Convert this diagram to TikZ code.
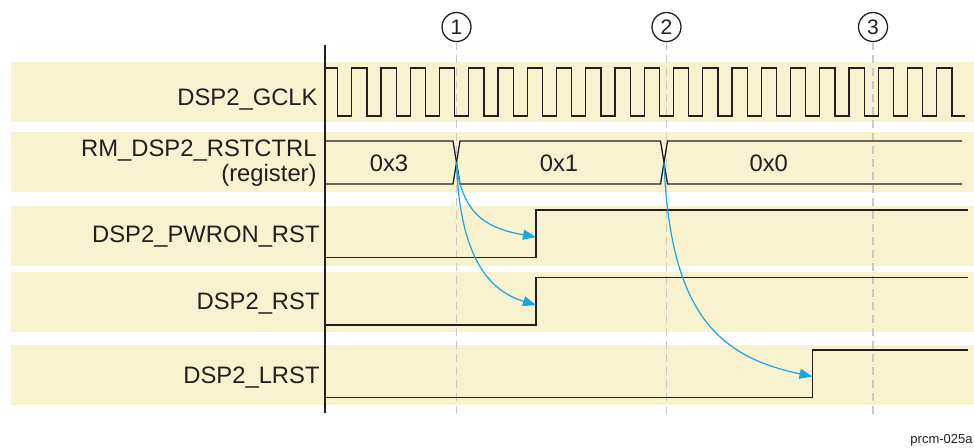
\documentclass[tikz,border=0pt]{standalone}
\usepackage{fontspec}
\setmainfont{Liberation Sans}
\usepackage{tikz}
\usetikzlibrary{arrows.meta,positioning}
\definecolor{tband}{HTML}{F8F2CF}
\definecolor{tink}{HTML}{231F20}
\definecolor{tcyan}{HTML}{1CA6E0}
\definecolor{tgrid}{HTML}{C9C9C9}

\begin{document}
\begin{tikzpicture}[x=0.5pt,y=-0.5pt,
  sig/.style={draw=tink,line width=0.65pt},
  lbl/.style={anchor=base east,inner sep=0pt,align=right,
              font=\fontsize{11.9}{12.85}\selectfont,text=tink},
  val/.style={anchor=base,inner sep=0pt,font=\fontsize{11.9}{12.85}\selectfont,text=tink},
  marker/.style={circle,draw=tink,line width=0.65pt,minimum size=14.5pt,inner sep=0pt,
                 font=\fontsize{10.5}{12}\selectfont,text=tink},
  guide/.style={draw=tgrid,line width=0.55pt,dash pattern=on 4pt off 2.5pt},
  cause/.style={draw=tcyan,line width=0.6pt,-{Triangle[length=6.5pt,width=5pt]}}]
\useasboundingbox (0,0) rectangle (974,447);
\foreach \t/\b in {62/122,132/192,206/266,272/332,345/405}
  \fill[tband] (11,\t) rectangle (974,\b);
\foreach \i/\x in {1/456.5,2/666.5,3/873}{
  \node[marker] (m\i) at (\x,27) {\i};
  \coordinate (g\i) at (\x,416);
  \draw[guide] (m\i) -- (g\i);
}
\draw[sig] (326,68) -- (337.5,68) -- (337.5,116)
  \foreach \k in {0,...,20}{ -- ({351.7+29.25*\k},116) -- ++(0,-48) -- ++(15.2,0) -- ++(0,48) }
  -- (965,116);
\draw[sig] (325,141) -- (453,141) -- (460,184) -- (660.5,184) -- (667.5,141) -- (962,141);
\draw[sig] (325,184) -- (453,184) -- (460,141) -- (660.5,141) -- (667.5,184) -- (962,184);
\draw[sig] (325,257.5) -| (536,210) -- (968,210);
\draw[sig] (325,325) -| (536,277.5) -- (968,277.5);
\draw[sig] (325,397.5) -| (812.5,350) -- (968,350);
\draw[tink,line width=1pt] (325,45) -- (325,413);
\node[lbl] (lGclk) at (318,105) {DSP2\_GCLK};
\node[lbl] (lCtrl) at (317,181.7) {RM\_DSP2\_RSTCTRL\\(register)};
\node[lbl] (lPwron) at (320,242.7) {DSP2\_PWRON\_RST};
\node[lbl] (lRst) at (320,309) {DSP2\_RST};
\node[lbl] (lLrst) at (320,383) {DSP2\_LRST};
\node[val] (v3) at (389,171.7) {0x3};
\node[val] (v1) at (559,171.7) {0x1};
\node[val] (v0) at (768.7,171.7) {0x0};
\coordinate (x1) at (456.5,162.5);
\coordinate (x2) at (664,162.5);
\coordinate (p1) at (536,237);
\coordinate (p2) at (536,305);
\coordinate (p3) at (812.5,376.5);
\draw[cause] (x1) .. controls +(5,55) and +(-45,-8) .. (p1);
\draw[cause] (x1) .. controls +(3,90) and +(-50,-15) .. (p2);
\draw[cause] (x2) .. controls +(6,150) and +(-95,-20) .. (p3);
\node[anchor=base east,inner sep=0pt,font=\fontsize{6.5}{8}\selectfont,text=tink]
  (tag) at (973,443) {prcm-025a};
\end{tikzpicture}
\end{document}
